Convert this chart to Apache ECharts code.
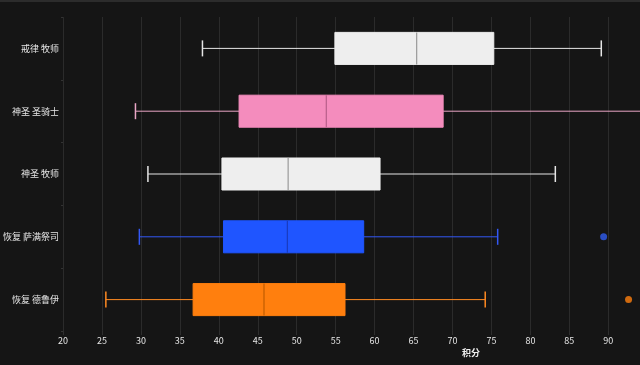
<!DOCTYPE html>
<html>
<head>
<meta charset="utf-8">
<script src="https://cdn.jsdelivr.net/npm/echarts@6/dist/echarts.min.js"></script>
<style>
html,body{margin:0;padding:0;background:#151515;}
#chart{width:640px;height:365px;}
</style>
</head>
<body>
<div id="chart"></div>
<script>
// ---- data ----
var categories = ['戒律 牧师', '神圣 圣骑士', '神圣 牧师', '恢复 萨满祭司', '恢复 德鲁伊'];
var mins    = [37.9, 29.3, 30.9, 29.8, 25.5];
var q1s     = [54.9, 42.6, 40.4, 40.6, 36.7];
var medians = [65.4, 53.8, 48.9, 48.8, 45.8];
var q3s     = [75.3, 68.8, 60.7, 58.6, 56.2];
var maxs    = [89.1, 96.0, 83.2, 75.8, 74.2];
var outlierCats   = ['恢复 萨满祭司', '恢复 德鲁伊'];
var outlierValues = [89.4, 92.6];
var xTickMin = 20, xTickStep = 5, xAxisMax = 94.07;
var xAxisName = '积分';

// ---- styles ----
var fillColors    = ['#eeeeee', '#f48cbd', '#eeeeee', '#1f55ff', '#ff7f0e'];
var whiskerColors = ['#e6e6e6', '#eaa6c6', '#e6e6e6', '#3358f5', '#ff8a22'];
var medianColors  = ['#9a9a9a', '#b85f8a', '#9a9a9a', '#1a3cbf', '#c05c00'];
var outlierColors = ['#2f5cf0', '#ff7f0e'];

var boxData = categories.map(function (c, i) {
  return [i, mins[i], q1s[i], medians[i], q3s[i], maxs[i]];
});
var outlierData = outlierCats.map(function (c, i) {
  return { value: [outlierValues[i], categories.indexOf(c)], itemStyle: { color: outlierColors[i] } };
});

var chart = echarts.init(document.getElementById('chart'), null, { renderer: 'canvas' });
var font = '"Noto Sans CJK SC", "Noto Sans", sans-serif';

function renderBox(params, api) {
  var idx = api.value(0);
  var band = api.size([0, 1])[1];
  var h = band * 0.51;
  var cap = h * 0.5;
  var pMin = api.coord([api.value(1), idx]);
  var pQ1 = api.coord([api.value(2), idx]);
  var pMed = api.coord([api.value(3), idx]);
  var pQ3 = api.coord([api.value(4), idx]);
  var pMax = api.coord([api.value(5), idx]);
  var y = pMin[1];
  var wc = whiskerColors[idx], fc = fillColors[idx], mc = medianColors[idx];
  return {
    type: 'group',
    children: [
      { type: 'line', shape: { x1: pMin[0], y1: y, x2: pQ1[0], y2: y }, style: { stroke: wc, lineWidth: 1 } },
      { type: 'line', shape: { x1: pQ3[0], y1: y, x2: pMax[0], y2: y }, style: { stroke: wc, lineWidth: 1 } },
      { type: 'line', shape: { x1: pMin[0], y1: y - cap / 2, x2: pMin[0], y2: y + cap / 2 }, style: { stroke: wc, lineWidth: 1.5 } },
      { type: 'line', shape: { x1: pMax[0], y1: y - cap / 2, x2: pMax[0], y2: y + cap / 2 }, style: { stroke: wc, lineWidth: 1.5 } },
      { type: 'rect', shape: { x: pQ1[0], y: y - h / 2, width: pQ3[0] - pQ1[0], height: h }, style: { fill: fc, stroke: fc, lineWidth: 1 } },
      { type: 'line', shape: { x1: pMed[0], y1: y - h / 2, x2: pMed[0], y2: y + h / 2 }, style: { stroke: mc, lineWidth: 1.2 } }
    ]
  };
}

chart.setOption({
  backgroundColor: '#151515',
  animation: false,
  grid: { left: 60, right: 0, top: 17, height: 314, containLabel: false },
  xAxis: {
    type: 'value',
    min: xTickMin,
    max: xAxisMax,
    interval: xTickStep,
    axisLine: { show: false },
    axisTick: { show: true, length: 4, lineStyle: { color: '#2e2e2e' } },
    axisLabel: { color: '#e6e6e6', fontSize: 9, fontFamily: font, margin: 5, showMaxLabel: false },
    splitLine: { show: true, lineStyle: { color: '#2b2b2b', width: 1 } }
  },
  yAxis: {
    type: 'category',
    data: categories,
    inverse: true,
    axisLine: { show: false },
    axisTick: { show: true, length: 2, lineStyle: { color: '#333' } },
    axisLabel: { color: '#e6e6e6', fontSize: 9, fontFamily: font, margin: 4 },
    splitLine: { show: false }
  },
  graphic: [
    { type: 'rect', left: 0, top: 0, shape: { width: 640, height: 2 }, style: { fill: '#2c2c2c' }, silent: true },
    { type: 'text', x: 471, y: 353, style: { text: xAxisName, fill: '#eeeeee', font: 'bold 9px ' + font, textAlign: 'center', textVerticalAlign: 'middle' } }
  ],
  series: [
    {
      type: 'custom',
      renderItem: renderBox,
      encode: { x: [1, 2, 3, 4, 5], y: 0 },
      data: boxData,
      clip: false
    },
    {
      type: 'scatter',
      symbol: 'circle',
      symbolSize: 7,
      data: outlierData
    }
  ]
});
</script>
</body>
</html>
